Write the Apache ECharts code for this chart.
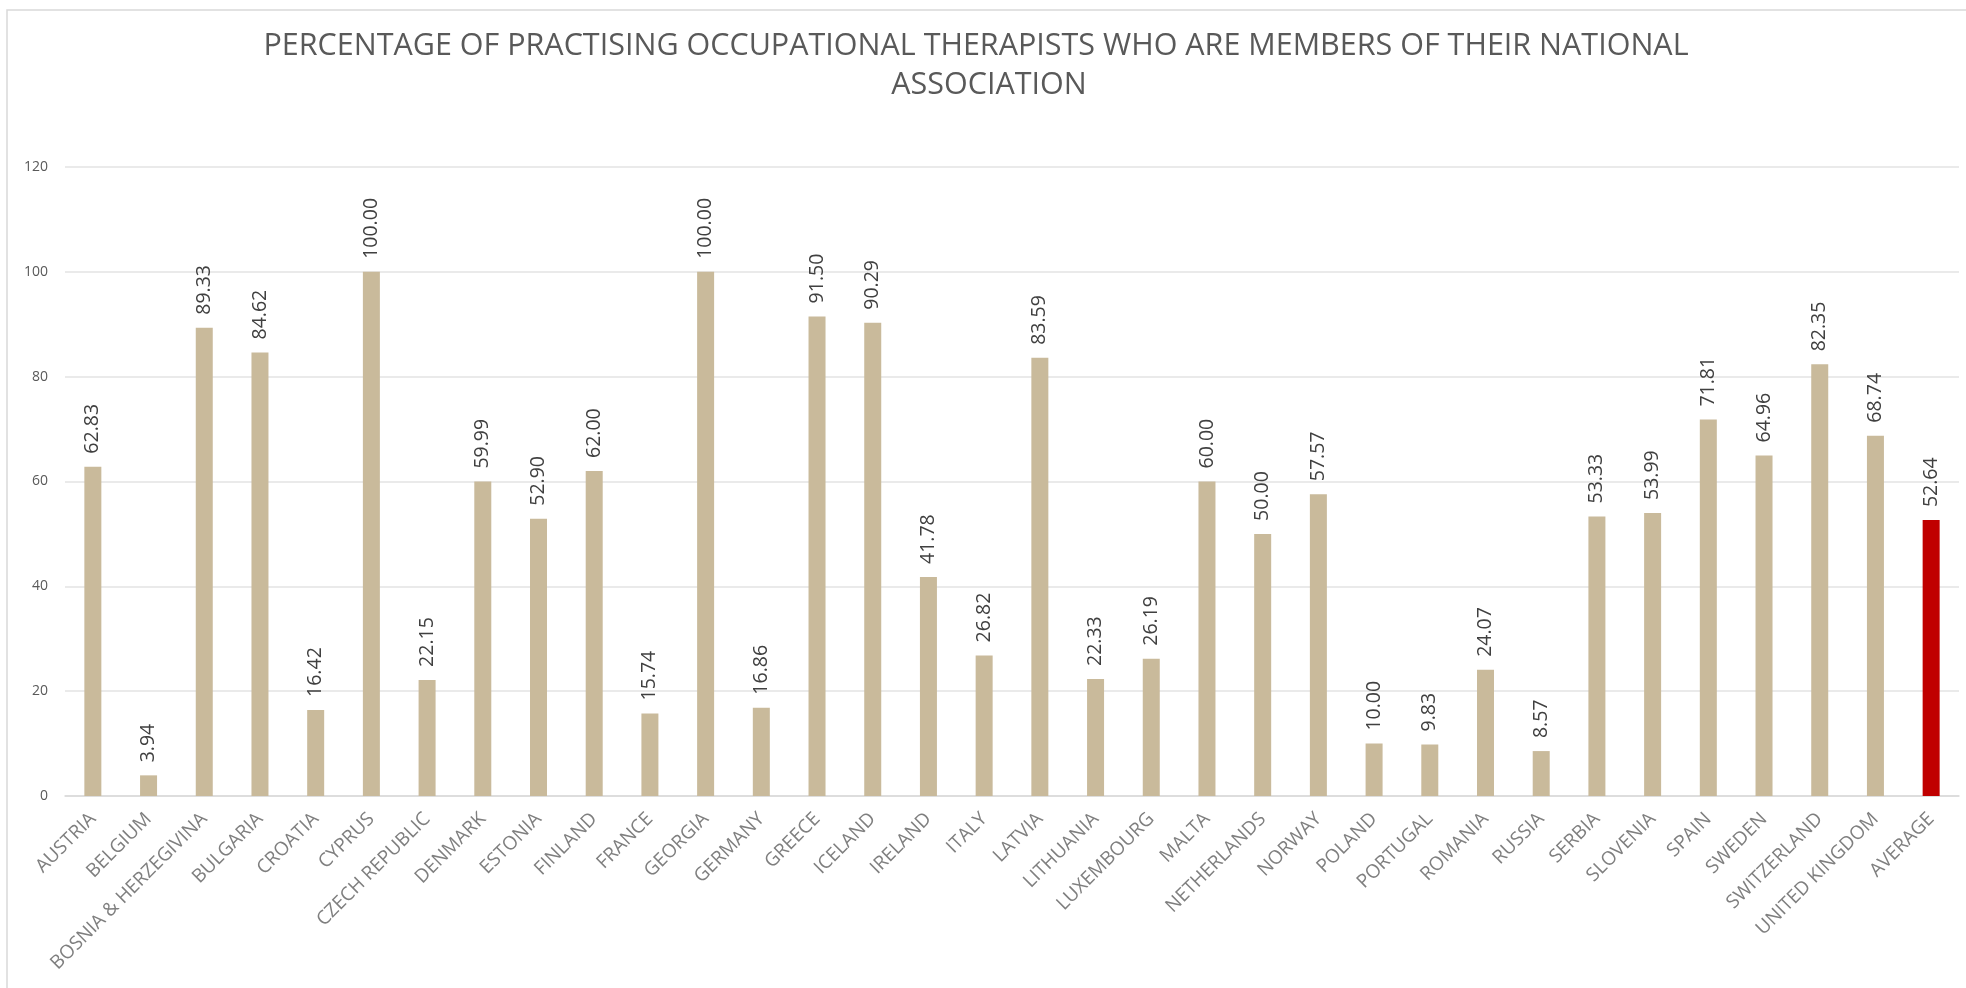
<!DOCTYPE html>
<html>
<head>
<meta charset="utf-8">
<script src="https://cdn.jsdelivr.net/npm/echarts@6/dist/echarts.min.js"></script>
<style>
	html, body { margin: 0; padding: 0; background: #fff; }
	#main { width: 1966px; height: 988px; }
</style>
</head>
<body>
<div id="main"></div>
<script>
	// countries + the overall average bar
	const countries = ['AUSTRIA', 'BELGIUM', 'BOSNIA & HERZEGIVINA', 'BULGARIA', 'CROATIA', 'CYPRUS',
		'CZECH REPUBLIC', 'DENMARK', 'ESTONIA', 'FINLAND', 'FRANCE', 'GEORGIA', 'GERMANY', 'GREECE',
		'ICELAND', 'IRELAND', 'ITALY', 'LATVIA', 'LITHUANIA', 'LUXEMBOURG', 'MALTA', 'NETHERLANDS',
		'NORWAY', 'POLAND', 'PORTUGAL', 'ROMANIA', 'RUSSIA', 'SERBIA', 'SLOVENIA', 'SPAIN', 'SWEDEN',
		'SWITZERLAND', 'UNITED KINGDOM', 'AVERAGE'];
	const percentages = [62.83, 3.94, 89.33, 84.62, 16.42, 100.00, 22.15, 59.99, 52.90, 62.00, 15.74,
		100.00, 16.86, 91.50, 90.29, 41.78, 26.82, 83.59, 22.33, 26.19, 60.00, 50.00, 57.57, 10.00,
		9.83, 24.07, 8.57, 53.33, 53.99, 71.81, 64.96, 82.35, 68.74, 52.64];
	const yTicks = [0, 20, 40, 60, 80, 100, 120];

	const barColor = '#c9ba9b';
	const avgColor = '#c00000';

	const titleStyle = {
		fontFamily: 'Open Sans',
		fontWeight: 'normal',
		fontSize: 30.5,
		color: '#595959'
	};

	let myChart = echarts.init(document.getElementById('main'));
	let option = {
		backgroundColor: '#fff',
		textStyle: { fontFamily: 'Open Sans' },
		graphic: [{
			type: 'rect',
			shape: { x: 7, y: 10, width: 1980, height: 1000 },
			style: { fill: 'none', stroke: '#d9d9d9', lineWidth: 1.5 },
			silent: true
		}],
		title: [{
			text: 'PERCENTAGE OF PRACTISING OCCUPATIONAL THERAPISTS WHO ARE MEMBERS OF THEIR NATIONAL',
			left: 971,
			top: 26,
			textAlign: 'center',
			textStyle: titleStyle
		}, {
			text: 'ASSOCIATION',
			left: 984,
			top: 65,
			textAlign: 'center',
			textStyle: titleStyle
		}],
		grid: { left: 65, right: 7, top: 167, bottom: 192 },
		xAxis: {
			type: 'category',
			data: countries,
			axisTick: { show: false },
			axisLine: { lineStyle: { color: '#d9d9d9', width: 1.5 } },
			axisLabel: {
				rotate: 45,
				interval: 0,
				margin: 20,
				fontSize: 19,
				color: '#7f7f7f'
			}
		},
		yAxis: {
			type: 'value',
			min: yTicks[0],
			max: yTicks[yTicks.length - 1],
			interval: 20,
			axisLine: { show: false },
			axisTick: { show: false },
			axisLabel: { fontSize: 14, color: '#595959', margin: 17 },
			splitLine: { lineStyle: { color: '#e3e3e3', width: 1.5 } }
		},
		series: [{
			type: 'bar',
			barWidth: 17,
			data: percentages.map((v, i) => ({
				value: v,
				itemStyle: { color: countries[i] === 'AVERAGE' ? avgColor : barColor }
			})),
			label: {
				show: true,
				position: 'top',
				rotate: 90,
				align: 'left',
				verticalAlign: 'middle',
				distance: 13,
				fontSize: 19.5,
				color: '#404040',
				formatter: p => p.value.toFixed(2)
			}
		}]
	};
	myChart.setOption(option);
</script>
</body>
</html>
